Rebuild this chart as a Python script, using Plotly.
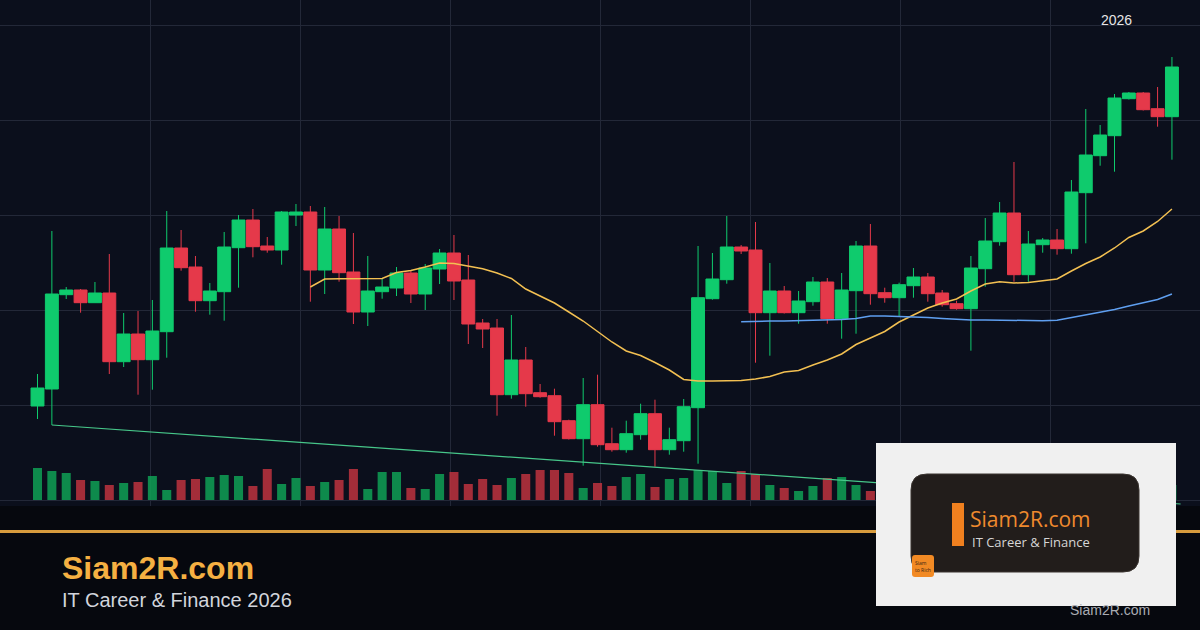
import plotly.graph_objects as go

# ---------------- data ----------------
open_ = [19.4, 21.1, 30.53, 31.0, 29.73, 30.7, 23.83, 26.6, 24.03, 26.83,
         35.2, 33.3, 29.93, 30.83, 35.23, 38.0, 35.4, 35.0, 38.5, 38.8,
         33.0, 37.1, 32.8, 28.8, 30.83, 31.2, 32.7, 30.6, 33.1, 34.7,
         32.0, 27.7, 27.2, 20.53, 24.0, 20.73, 20.43, 17.93, 16.13, 19.53,
         15.63, 15.03, 16.53, 18.63, 15.03, 15.93, 19.23, 30.13, 32.03, 35.3,
         35.0, 28.73, 30.9, 28.73, 29.83, 31.8, 28.13, 30.93, 35.4, 30.73,
         30.23, 31.43, 32.3, 30.7, 29.63, 29.13, 33.13, 35.83, 38.7, 32.53,
         35.53, 36.0, 35.13, 40.73, 44.43, 46.43, 50.13, 50.7, 49.13, 48.33]
high = [22.6, 36.9, 31.3, 31.1, 31.8, 34.6, 28.7, 28.9, 30.0, 38.9,
        37.0, 34.4, 31.7, 36.8, 38.5, 39.1, 36.3, 38.9, 39.6, 39.4,
        39.3, 38.4, 36.7, 34.4, 32.2, 33.3, 33.0, 33.6, 35.1, 36.5,
        34.5, 28.1, 28.1, 28.5, 25.3, 21.6, 21.13, 18.03, 22.2, 22.53,
        17.23, 17.93, 19.63, 20.03, 17.23, 20.1, 35.4, 34.7, 38.4, 35.5,
        37.8, 33.7, 31.4, 30.9, 32.3, 32.2, 32.7, 35.9, 37.6, 31.23,
        31.73, 33.2, 32.7, 31.0, 29.93, 34.4, 38.2, 39.8, 43.8, 36.9,
        36.2, 37.1, 42.0, 49.1, 47.5, 50.6, 50.8, 50.8, 51.3, 54.3]
low = [18.1, 17.5, 30.1, 28.73, 29.7, 22.6, 23.3, 20.53, 21.03, 24.23,
       32.93, 28.83, 28.53, 27.93, 31.23, 34.27, 34.73, 33.53, 37.4, 29.83,
       30.6, 31.83, 27.6, 27.4, 30.13, 30.4, 29.7, 29.0, 31.6, 30.0,
       25.6, 25.2, 18.43, 20.13, 19.33, 20.23, 16.43, 16.05, 13.43, 15.33,
       14.83, 14.73, 16.03, 13.33, 14.53, 14.83, 13.63, 30.03, 31.63, 34.6,
       23.73, 24.43, 28.65, 27.63, 29.43, 27.63, 26.13, 26.63, 29.53, 29.73,
       28.33, 30.23, 29.83, 29.33, 29.03, 24.93, 31.33, 35.43, 31.83, 31.83,
       34.73, 34.53, 34.63, 35.67, 43.43, 42.83, 50.05, 48.95, 47.33, 44.03]
close = [21.2, 30.6, 31.0, 29.73, 30.7, 23.83, 26.6, 24.03, 26.9, 35.2,
         33.23, 29.93, 30.9, 35.3, 38.0, 35.33, 35.0, 38.8, 38.8, 33.0,
         37.1, 32.73, 28.8, 30.9, 31.3, 32.7, 30.6, 33.2, 34.7, 31.9,
         27.6, 27.1, 20.53, 24.0, 20.63, 20.33, 17.83, 16.13, 19.53, 15.53,
         15.03, 16.63, 18.63, 15.03, 16.03, 19.33, 30.23, 32.1, 35.3, 34.9,
         28.73, 30.9, 28.73, 29.9, 31.8, 28.13, 31.0, 35.4, 30.63, 30.23,
         31.53, 32.3, 30.63, 29.53, 29.13, 33.2, 35.9, 38.7, 32.53, 35.6,
         36.0, 35.13, 40.8, 44.5, 46.5, 50.2, 50.7, 49.03, 48.33, 53.3]
volume = [3.2, 2.9, 2.7, 2.0, 1.9, 1.5, 1.7, 1.8, 2.4, 1.0,
          2.0, 2.1, 2.3, 2.5, 2.4, 1.4, 3.1, 1.6, 2.2, 1.4,
          1.8, 2.0, 3.1, 1.1, 2.8, 2.8, 1.2, 1.1, 2.6, 2.8,
          1.6, 2.1, 1.5, 2.2, 2.6, 3.0, 3.0, 2.7, 1.2, 1.7,
          1.4, 2.3, 2.6, 1.3, 2.1, 2.2, 3.0, 2.9, 1.7, 2.9,
          2.6, 1.5, 1.2, 0.9, 1.4, 2.2, 2.3, 1.5, 0.9, 1.2,
          1.6, 2.0, 1.4, 1.1, 2.5, 2.8, 3.0, 3.2, 2.4, 1.8,
          1.3, 2.9, 3.4, 2.6, 2.1, 1.7, 1.2, 2.0, 1.5, 1.5]
ma_fast_start = 19
ma_fast = [31.3, 32.1, 32.13, 32.13, 32.13, 32.15, 32.75, 32.95, 33.3, 33.7,
           33.65, 33.35, 33.12, 32.7, 32.15, 31.1, 30.4, 29.7, 28.8, 27.9,
           26.85, 25.8, 24.9, 24.45, 23.75, 23.0, 22.05, 21.9, 21.9, 21.93,
           21.95, 22.1, 22.35, 22.8, 22.95, 23.5, 24.0, 24.6, 25.55, 26.2,
           26.85, 27.8, 28.5, 29.2, 29.7, 30.1, 30.9, 31.6, 31.83, 31.7,
           31.75, 31.95, 32.1, 32.9, 33.65, 34.3, 35.2, 36.25, 36.9, 37.85, 39.1]
ma_slow_start = 49
ma_slow = [27.83, 27.9, 27.9, 27.9, 27.93, 27.95, 28.0, 28.05, 28.15, 28.4,
           28.4, 28.37, 28.33, 28.25, 28.15, 28.05, 28.0, 28.0, 27.97, 27.95,
           27.93, 27.93, 27.97, 28.25, 28.5, 28.75, 29.05, 29.4, 29.75, 30.05, 30.6]
trend_x = [1, 79.6]
trend_y = [17.5, 9.6]

brand = "Siam2R.com"
subtitle = "IT Career & Finance 2026"
logo_sub = "IT Career & Finance"
year_label = "2026"

# ---------------- styling ----------------
W, H = 1200, 630
GREEN = "#0fcb6d"
RED = "#e5394a"
GRID = "#232838"
PLOT_BG = "#0b0f1c"
PAPER_BG = "#06080e"
PLOT_BOTTOM = 506  # px

idx = list(range(len(close)))
vol_colors = ["rgba(15,160,85,0.85)" if c >= o else "rgba(190,50,62,0.85)"
              for o, c in zip(open_, close)]

fig = go.Figure()

# volume on base axis (drawn underneath)
fig.add_trace(go.Bar(x=idx, y=volume, marker=dict(color=vol_colors, line=dict(width=0)),
                     width=0.63, yaxis="y", hoverinfo="skip", showlegend=False))

# trend line
fig.add_trace(go.Scatter(x=trend_x, y=trend_y, mode="lines", yaxis="y2",
                         line=dict(color="#47c78a", width=1.2), showlegend=False))

# candles
fig.add_trace(go.Candlestick(
    x=idx, open=open_, high=high, low=low, close=close, yaxis="y2",
    increasing=dict(line=dict(color=GREEN, width=1), fillcolor=GREEN),
    decreasing=dict(line=dict(color=RED, width=1), fillcolor=RED),
    whiskerwidth=0, showlegend=False))

# moving averages
fig.add_trace(go.Scatter(x=list(range(ma_fast_start, ma_fast_start + len(ma_fast))), y=ma_fast,
                         mode="lines", yaxis="y2", line=dict(color="#f3c052", width=1.5),
                         showlegend=False))
fig.add_trace(go.Scatter(x=list(range(ma_slow_start, ma_slow_start + len(ma_slow))), y=ma_slow,
                         mode="lines", yaxis="y2", line=dict(color="#5f9ff0", width=1.5),
                         showlegend=False))

px_per_bar = 14.36
first_px = 37.5
x0 = -first_px / px_per_bar
x1 = (W - first_px) / px_per_bar

def py(ypx):
    return 1 - ypx / H

def px(xpx):
    return xpx / W

def rrect(xa, ya, xb, yb, r):
    rx, ry = r / W, r / H
    X0, X1 = px(xa), px(xb)
    Y0, Y1 = py(yb), py(ya)  # Y0 bottom, Y1 top
    return (f"M {X0+rx},{Y1} L {X1-rx},{Y1} Q {X1},{Y1} {X1},{Y1-ry} "
            f"L {X1},{Y0+ry} Q {X1},{Y0} {X1-rx},{Y0} L {X0+rx},{Y0} "
            f"Q {X0},{Y0} {X0},{Y0+ry} L {X0},{Y1-ry} Q {X0},{Y1} {X0+rx},{Y1} Z")

shapes = [
    dict(type="line", xref="paper", yref="paper", x0=0, x1=1, y0=py(531.5), y1=py(531.5),
         line=dict(color="#d79b3d", width=3), layer="above"),
    dict(type="rect", xref="paper", yref="paper", x0=px(876), x1=px(1176), y0=py(606), y1=py(443),
         fillcolor="#f0f0f0", line=dict(width=0), layer="above"),
    dict(type="path", xref="paper", yref="paper", path=rrect(911, 474, 1139, 572, 16),
         fillcolor="#221d1b", line=dict(color="#3a3430", width=1), layer="above"),
    dict(type="rect", xref="paper", yref="paper", x0=px(952), x1=px(964), y0=py(546), y1=py(503),
         fillcolor="#f0801f", line=dict(width=0), layer="above"),
    dict(type="path", xref="paper", yref="paper", path=rrect(912, 555, 934, 577, 3),
         fillcolor="#f28a24", line=dict(width=0), layer="above"),
]

annotations = [
    dict(text=f"<b>{brand}</b>", x=px(60), y=py(568), xref="paper", yref="paper",
         xanchor="left", yanchor="middle", showarrow=False,
         font=dict(family="Liberation Sans, Arial", size=32, color="#f5b042")),
    dict(text=subtitle, x=px(60), y=py(600), xref="paper", yref="paper",
         xanchor="left", yanchor="middle", showarrow=False,
         font=dict(family="Liberation Sans, Arial", size=20, color="#d2d5dc")),
    dict(text=brand, x=px(969), y=py(519), xref="paper", yref="paper",
         xanchor="left", yanchor="middle", showarrow=False,
         font=dict(family="Open Sans", size=21, color="#ef8a2e"), borderpad=0),
    dict(text=logo_sub, x=px(971), y=py(542), xref="paper", yref="paper",
         xanchor="left", yanchor="middle", showarrow=False,
         font=dict(family="Open Sans", size=13, color="#d6d6d6"), borderpad=0),
    dict(text="Siam<br>to Rich", x=px(914), y=py(566), xref="paper", yref="paper",
         xanchor="left", yanchor="middle", showarrow=False, align="left",
         font=dict(family="Open Sans", size=5, color="#3b2412"), borderpad=0),
    dict(text=brand, x=px(1110), y=py(610), xref="paper", yref="paper",
         xanchor="center", yanchor="middle", showarrow=False,
         font=dict(family="Liberation Sans, Arial", size=14, color="#a9acb3")),
    dict(text=year_label, x=px(1116), y=py(20), xref="paper", yref="paper",
         xanchor="center", yanchor="middle", showarrow=False,
         font=dict(family="Liberation Sans, Arial", size=14, color="#e6e6e6")),
]

dom0 = (H - PLOT_BOTTOM) / H
fig.update_layout(
    width=W, height=H, margin=dict(l=0, r=0, t=0, b=0, pad=0),
    paper_bgcolor=PAPER_BG, plot_bgcolor=PLOT_BG,
    showlegend=False, boxgap=0.1, boxgroupgap=0,
    xaxis=dict(range=[x0, x1], showgrid=True, gridcolor=GRID, gridwidth=1,
               tickmode="linear", tick0=(150 - first_px) / px_per_bar, dtick=150 / px_per_bar,
               showticklabels=False, zeroline=False, showline=False, ticks="",
               rangeslider=dict(visible=False), fixedrange=True),
    yaxis=dict(domain=[dom0, 1], range=[-(PLOT_BOTTOM - 500) / 10, 50], showgrid=False,
               showticklabels=False, zeroline=False, showline=False, ticks="", fixedrange=True),
    yaxis2=dict(overlaying="y", range=[60 - PLOT_BOTTOM / 10, 60], showgrid=True,
                gridcolor=GRID, gridwidth=1, tickmode="linear", tick0=10, dtick=9.5,
                showticklabels=False, zeroline=False, showline=False, ticks="", fixedrange=True),
    shapes=shapes, annotations=annotations,
)

fig.write_html("out.html", config={"displayModeBar": False},
               post_script="document.body.style.margin='0';document.body.style.padding='0';"
                           "document.body.style.overflow='hidden';document.body.style.background='#06080e';")
